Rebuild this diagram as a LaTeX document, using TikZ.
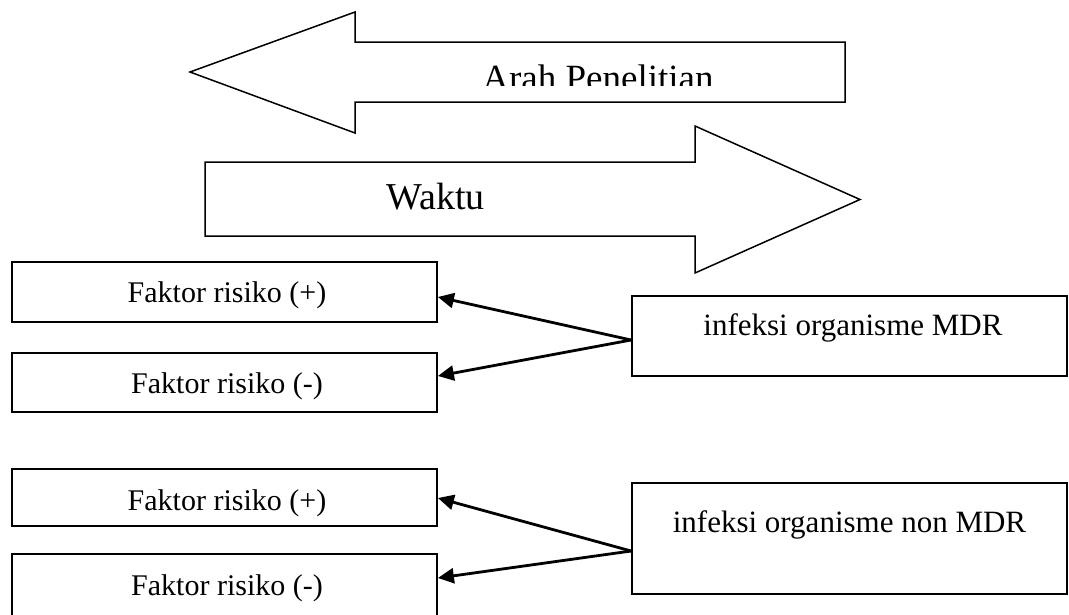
\documentclass[tikz,border=0pt]{standalone}
\usepackage{fontspec}
\setmainfont{Liberation Serif}
\usetikzlibrary{arrows.meta}
\begin{document}
\begin{tikzpicture}[x=1pt,y=-1pt,
  bigarrow/.style={draw=black, line width=1.5pt, fill=white, line join=miter},
  box/.style={draw=black, line width=1.8pt, rectangle, inner sep=0pt},
  fbox/.style={box, minimum width=425pt, minimum height=60pt},
  mbox/.style={box, minimum width=435pt},
  ftext/.style={anchor=base, inner sep=0pt, font=\fontsize{30}{36}\selectfont},
  mtext/.style={anchor=base, inner sep=0pt, font=\fontsize{31}{37}\selectfont},
  conn/.style={draw=black, line width=2.8pt, -{Triangle[length=16pt,width=15pt]}}
]
\useasboundingbox (0,0) rectangle (1069,614);

% Arah Penelitian arrow (pointing left)
\draw[bigarrow] (190,72) -- (355,12) -- (355,42) -- (845,42) -- (845,102) -- (355,102) -- (355,133) -- cycle;
\begin{scope}
  \clip (355,42) rectangle (845,85.5);
  \node[anchor=base, inner sep=0pt, font=\fontsize{37}{44}\selectfont] (arah) at (598,90) {Arah Penelitian};
\end{scope}

% Waktu arrow (pointing right)
\draw[bigarrow] (205,162) -- (695,162) -- (695,126) -- (860,199.5) -- (695,273) -- (695,236) -- (205,236) -- cycle;
\node[anchor=base, inner sep=0pt, font=\fontsize{38}{45}\selectfont] (waktu) at (435.5,209) {Waktu};

% Top group
\node[fbox] (f1) at (224.5,292) {};
\node[ftext] (t1) at (227,302) {Faktor risiko (+)};
\node[fbox, minimum height=59pt] (f2) at (224.5,382.5) {};
\node[ftext] (t2) at (227,393) {Faktor risiko (-)};
\node[mbox, minimum height=80pt] (mdr) at (849.5,336) {};
\node[mtext] (t3) at (853,335) {infeksi organisme MDR};

\draw[conn] ([yshift=-4pt]mdr.west) -- ([yshift=-5pt]f1.east);
\draw[conn] ([yshift=-4pt]mdr.west) -- ([yshift=6.5pt]f2.east);

% Bottom group
\node[fbox, minimum height=57pt] (f3) at (224.5,497.5) {};
\node[ftext] (t4) at (227,510) {Faktor risiko (+)};
\node[fbox, minimum height=63pt] (f4) at (224.5,585.5) {};
\node[ftext] (t5) at (227,595) {Faktor risiko (-)};
\node[mbox, minimum height=111pt] (nmdr) at (849.5,538.5) {};
\node[mtext] (t6) at (849.5,532) {infeksi organisme non MDR};

\draw[conn] ([yshift=-12.5pt]nmdr.west) -- ([yshift=-0.5pt]f3.east);
\draw[conn] ([yshift=-12.5pt]nmdr.west) -- ([yshift=7.5pt]f4.east);
\end{tikzpicture}
\end{document}
